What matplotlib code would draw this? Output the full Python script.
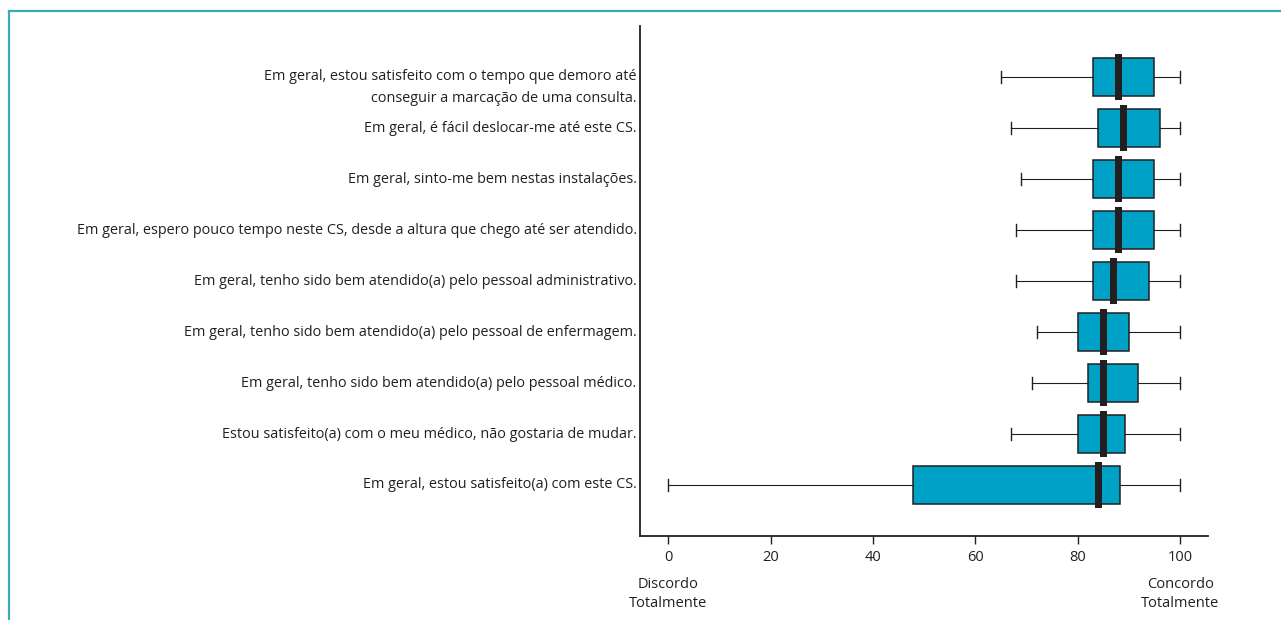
import matplotlib.pyplot as plt
from matplotlib.lines import Line2D
from matplotlib.transforms import blended_transform_factory

plt.rcParams['font.family'] = ['Open Sans', 'DejaVu Sans']

# items, top to bottom
labels = [
    'Em geral, estou satisfeito com o tempo que demoro até\nconseguir a marcação de uma consulta.',
    'Em geral, é fácil deslocar-me até este CS.',
    'Em geral, sinto-me bem nestas instalações.',
    'Em geral, espero pouco tempo neste CS, desde a altura que chego até ser atendido.',
    'Em geral, tenho sido bem atendido(a) pelo pessoal administrativo.',
    'Em geral, tenho sido bem atendido(a) pelo pessoal de enfermagem.',
    'Em geral, tenho sido bem atendido(a) pelo pessoal médico.',
    'Estou satisfeito(a) com o meu médico, não gostaria de mudar.',
    'Em geral, estou satisfeito(a) com este CS.',
]
whisk_lo = [65, 67, 69, 68, 68, 72, 71, 67, 0]
q1 = [83, 84, 83, 83, 83, 80, 82, 80, 47.8]
medians = [88, 89, 88, 88, 87, 85, 85, 85, 84]
q3 = [95, 96, 95, 95, 94, 90, 91.7, 89.2, 88.2]
whisk_hi = [100, 100, 100, 100, 100, 100, 100, 100, 100]

x_ticks = [0, 20, 40, 60, 80, 100]

dark = '#231F20'
blue = '#00A1C7'

n = len(labels)
pos = list(range(n, 0, -1))

stats = []
for i in range(n):
    stats.append({'whislo': whisk_lo[i], 'q1': q1[i], 'med': medians[i],
                  'q3': q3[i], 'whishi': whisk_hi[i], 'fliers': []})

fig = plt.figure(figsize=(12.81, 6.2), dpi=100)
ax = fig.add_axes([0.4996, 0.1355, 0.4432, 0.8225])

ax.bxp(stats, positions=pos, widths=0.745, orientation='horizontal',
       patch_artist=True, showfliers=False, capwidths=0.25,
       boxprops=dict(facecolor=blue, edgecolor=dark, linewidth=1.1),
       whiskerprops=dict(color=dark, linewidth=0.8),
       capprops=dict(color=dark, linewidth=1.0),
       medianprops=dict(visible=False))

# thick median bars
ax.barh(pos, [1.4] * n, left=[m - 0.7 for m in medians], height=0.9,
        color=dark, zorder=4)

ax.set_xlim(-5.5, 105.4)
ax.set_ylim(0, 10)
ax.set_xticks(x_ticks)
ax.set_xticklabels([str(t) for t in x_ticks], fontsize=10.5, color=dark)
ax.set_yticks([])
ax.tick_params(axis='x', length=6, width=1, color=dark, pad=4)
for side in ['top', 'right']:
    ax.spines[side].set_visible(False)
for side in ['left', 'bottom']:
    ax.spines[side].set_color(dark)
    ax.spines[side].set_linewidth(1.3)

trans = blended_transform_factory(ax.transAxes, ax.transData)
for i, lab in enumerate(labels):
    if '\n' in lab:
        ax.text(-0.006, pos[i] + 0.15, lab, transform=trans, ha='right',
                va='top', fontsize=10.4, color=dark, linespacing=1.6,
                multialignment='right')
    else:
        ax.text(-0.006, pos[i], lab, transform=trans, ha='right',
                va='center', fontsize=10.4, color=dark)

bottom_trans = blended_transform_factory(ax.transData, fig.transFigure)
ax.text(0, 1 - 594 / 620, 'Discordo\nTotalmente', transform=bottom_trans,
        ha='center', va='center', fontsize=10.5, color=dark, linespacing=1.45)
ax.text(100, 1 - 594 / 620, 'Concordo\nTotalmente', transform=bottom_trans,
        ha='center', va='center', fontsize=10.5, color=dark, linespacing=1.45)

# frame lines
frame_col = '#3AABB6'
fig.add_artist(Line2D([9 / 1281, 9 / 1281], [0, 1 - 11 / 620], color=frame_col, linewidth=1.6))
fig.add_artist(Line2D([9 / 1281, 1], [1 - 11 / 620, 1 - 11 / 620], color=frame_col, linewidth=1.6))

fig.savefig('out.png', dpi=100)
